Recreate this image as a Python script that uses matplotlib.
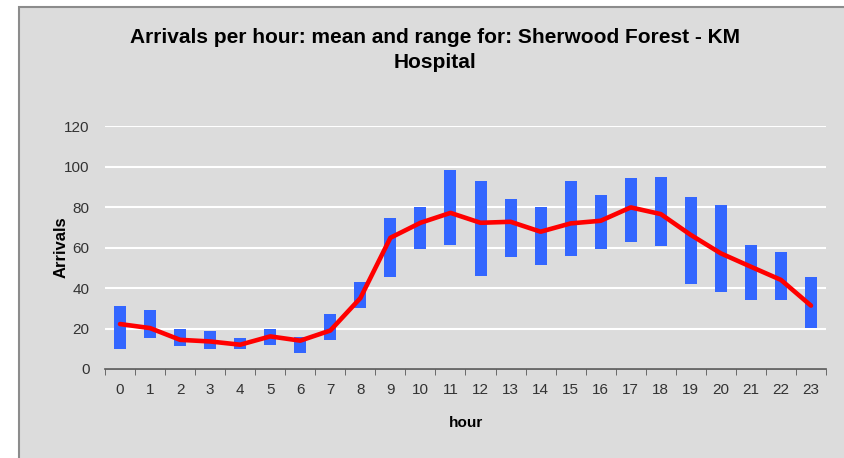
# Arrivals per hour: mean and range chart

import numpy as np
import matplotlib.pyplot as plt
from matplotlib.patches import Rectangle

plt.rcParams['font.family'] = ['Liberation Sans', 'DejaVu Sans']

# Data
hours = list(range(24))
range_low = [9.8, 15.3, 11.6, 9.8, 9.8, 12.0, 7.9, 14.4, 30.3, 45.3, 59.3, 61.2,
             46.1, 55.3, 51.4, 56.0, 59.4, 62.6, 60.6, 42.0, 37.9, 34.0, 34.0, 20.2]
range_high = [31.2, 29.2, 19.7, 19.0, 15.3, 19.7, 16.0, 27.1, 42.8, 74.4, 80.1, 98.5,
              92.8, 83.9, 80.1, 92.8, 85.9, 94.1, 94.7, 84.7, 80.8, 61.1, 57.6, 45.6]
mean_arrivals = [22.2, 20.2, 14.4, 13.6, 12.0, 16.1, 14.0, 19.0, 35.0, 64.8, 72.2, 77.1,
                 72.2, 72.7, 67.8, 71.9, 73.2, 79.8, 76.5, 66.2, 57.1, 50.5, 44.0, 31.3]
y_ticks = [0, 20, 40, 60, 80, 100, 120]

bg = '#dcdcdc'

fig = plt.figure(figsize=(8.44, 4.58), dpi=100)
fig.patch.set_facecolor('white')
# Gray chart area with border
fig.patches.append(Rectangle((19 / 844, -0.01), 1.0, (458 - 7.5) / 458 + 0.01,
                             transform=fig.transFigure, facecolor=bg,
                             edgecolor='#8c8c8c', linewidth=1.5, zorder=-1))

ax = fig.add_axes([105 / 844, (458 - 369) / 458, (826 - 105) / 844, (369 - 126) / 458])
ax.set_facecolor(bg)

# Range bars
heights = np.array(range_high) - np.array(range_low)
ax.bar(hours, heights, bottom=range_low, width=0.4, color='#3366ff', zorder=2)

# Mean line
ax.plot(hours, mean_arrivals, color='#ff0000', linewidth=3.3, zorder=3,
        solid_joinstyle='round', solid_capstyle='round')

ax.set_xlim(-0.5, 23.5)
ax.set_ylim(0, 120)
ax.set_yticks(y_ticks)
ax.set_xticks(hours)
ax.set_xticks(np.arange(-0.5, 24, 1), minor=True)
ax.grid(axis='y', color='white', linewidth=1.5, zorder=1)
ax.set_axisbelow(True)

for side in ['top', 'right', 'left']:
    ax.spines[side].set_visible(False)
ax.spines['bottom'].set_color('#555555')
ax.spines['bottom'].set_linewidth(1.2)

ax.tick_params(axis='x', which='major', length=0, pad=10, labelsize=11, labelcolor='#333333')
ax.tick_params(axis='x', which='minor', length=4, direction='out', color='#555555')
ax.tick_params(axis='y', length=0, pad=11, labelsize=11, labelcolor='#333333')

ax.set_xlabel('hour', fontsize=11, fontweight='bold', labelpad=14)
ax.set_ylabel('Arrivals', fontsize=12, fontweight='bold', labelpad=-3)

fig.text(435 / 844, 1 - 50 / 458, 'Arrivals per hour: mean and range for: Sherwood Forest - KM\nHospital',
         ha='center', va='center', fontsize=15, fontweight='bold', linespacing=1.45)

fig.savefig('out.png', dpi=100)
